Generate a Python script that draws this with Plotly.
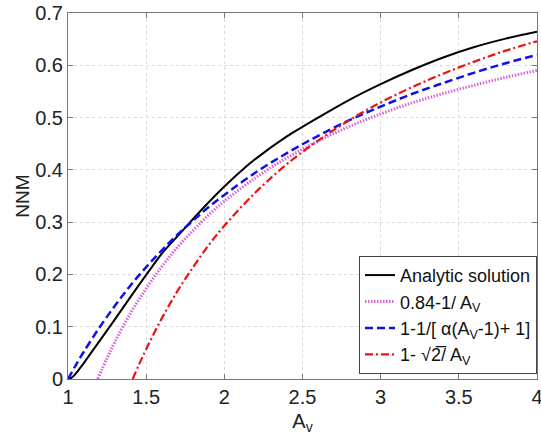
import plotly.graph_objects as go

# Analytic solution
x_analytic = [1.0, 1.02, 1.04, 1.06, 1.08, 1.1, 1.2, 1.3, 1.4, 1.5, 1.6, 1.7, 1.8, 1.9, 2.0, 2.1,
              2.2, 2.4, 2.6, 2.8, 3.0, 3.2, 3.4, 3.6, 3.8, 4.0]
y_analytic = [0.0, 0.002, 0.007, 0.014, 0.022, 0.030, 0.072, 0.114, 0.157, 0.199, 0.240, 0.273,
              0.306, 0.338, 0.368, 0.396, 0.421, 0.464, 0.500, 0.534, 0.564, 0.591, 0.615, 0.635,
              0.651, 0.664]

# 0.84 - 1/Av
x_fit1 = [1.19, 1.25, 1.3, 1.4, 1.5, 1.6, 1.7, 1.8, 1.9, 2.0, 2.2, 2.4, 2.6, 2.8, 3.0,
          3.2, 3.4, 3.6, 3.8, 4.0]
y_fit1 = [0.0, 0.04, 0.071, 0.126, 0.173, 0.215, 0.252, 0.284, 0.314, 0.34, 0.385, 0.423,
          0.455, 0.483, 0.507, 0.528, 0.546, 0.562, 0.577, 0.59]

# 1 - 1/[alpha(Av-1)+1]
x_fit2 = [1.0, 1.05, 1.1, 1.2, 1.3, 1.4, 1.5, 1.6, 1.7, 1.8, 1.9, 2.0, 2.2, 2.4, 2.6, 2.8,
          3.0, 3.2, 3.4, 3.6, 3.8, 4.0]
y_fit2 = [0.0, 0.0265, 0.0516, 0.098, 0.140, 0.179, 0.214, 0.246, 0.276, 0.303, 0.329, 0.352,
          0.395, 0.432, 0.465, 0.495, 0.521, 0.545, 0.566, 0.586, 0.604, 0.620]

# 1 - sqrt(2)/Av
x_fit3 = [1.414, 1.45, 1.5, 1.6, 1.7, 1.8, 1.9, 2.0, 2.2, 2.4, 2.6, 2.8, 3.0, 3.2, 3.4,
          3.6, 3.8, 4.0]
y_fit3 = [0.0, 0.025, 0.057, 0.116, 0.168, 0.214, 0.256, 0.293, 0.357, 0.411, 0.456, 0.495,
          0.529, 0.558, 0.584, 0.607, 0.628, 0.646]

names = ["Analytic solution",
         "0.84-1/ A<sub>V</sub>",
         "1-1/[ α(A<sub>V</sub>-1)+ 1]",
         "1- √2̅/ A<sub>V</sub>"]

x_ticks = [1, 1.5, 2, 2.5, 3, 3.5, 4]
x_ticklabels = ["1", "1.5", "2", "2.5", "3", "3.5", "4"]
y_ticks = [0, 0.1, 0.2, 0.3, 0.4, 0.5, 0.6, 0.7]
y_ticklabels = ["0", "0.1", "0.2", "0.3", "0.4", "0.5", "0.6", "0.7"]

fig = go.Figure()
fig.add_trace(go.Scatter(x=x_analytic, y=y_analytic, mode="lines", name=names[0],
                         line=dict(color="black", width=2, shape="spline", smoothing=0.6)))
fig.add_trace(go.Scatter(x=x_fit1, y=y_fit1, mode="lines", name=names[1],
                         line=dict(color="#d865d8", width=3, dash="1.5px,1.5px", shape="spline")))
fig.add_trace(go.Scatter(x=x_fit2, y=y_fit2, mode="lines", name=names[2],
                         line=dict(color="#1010ee", width=2.5, dash="8px,4px", shape="spline")))
fig.add_trace(go.Scatter(x=x_fit3, y=y_fit3, mode="lines", name=names[3],
                         line=dict(color="#ee1111", width=2.2, dash="8px,3px,2px,3px", shape="spline")))

axis_common = dict(showline=True, linecolor="#777", linewidth=1, mirror="ticks",
                   ticks="inside", ticklen=5, tickcolor="#777",
                   showgrid=True, gridcolor="#dadada", griddash="dot", gridwidth=1,
                   zeroline=False, tickfont=dict(size=20, color="#222"),
                   ticklabeloverflow="allow", automargin=False)

fig.update_xaxes(range=[1, 4], tickvals=x_ticks, ticktext=x_ticklabels,
                 title=dict(text="A<sub>v</sub>", font=dict(size=20, color="#222"), standoff=6),
                 **axis_common)
fig.update_yaxes(range=[0, 0.7], tickvals=y_ticks, ticktext=y_ticklabels,
                 title=dict(text="NNM", font=dict(size=19, color="#222"), standoff=0),
                 **axis_common)

fig.update_layout(
    width=541, height=436,
    margin=dict(l=68, r=4, t=13, b=57, autoexpand=False),
    paper_bgcolor="white", plot_bgcolor="white",
    font=dict(family="Liberation Sans, Arial, sans-serif", color="#222"),
    legend=dict(x=1, y=0.014, xanchor="right", yanchor="bottom",
                bgcolor="white", bordercolor="#444", borderwidth=1,
                font=dict(size=18, color="#111"), tracegroupgap=0,
                itemwidth=30),
    showlegend=True,
)

fig.write_html("out.html", config={"displayModeBar": False},
               post_script="document.body.style.margin='0';document.body.style.overflow='hidden';")
